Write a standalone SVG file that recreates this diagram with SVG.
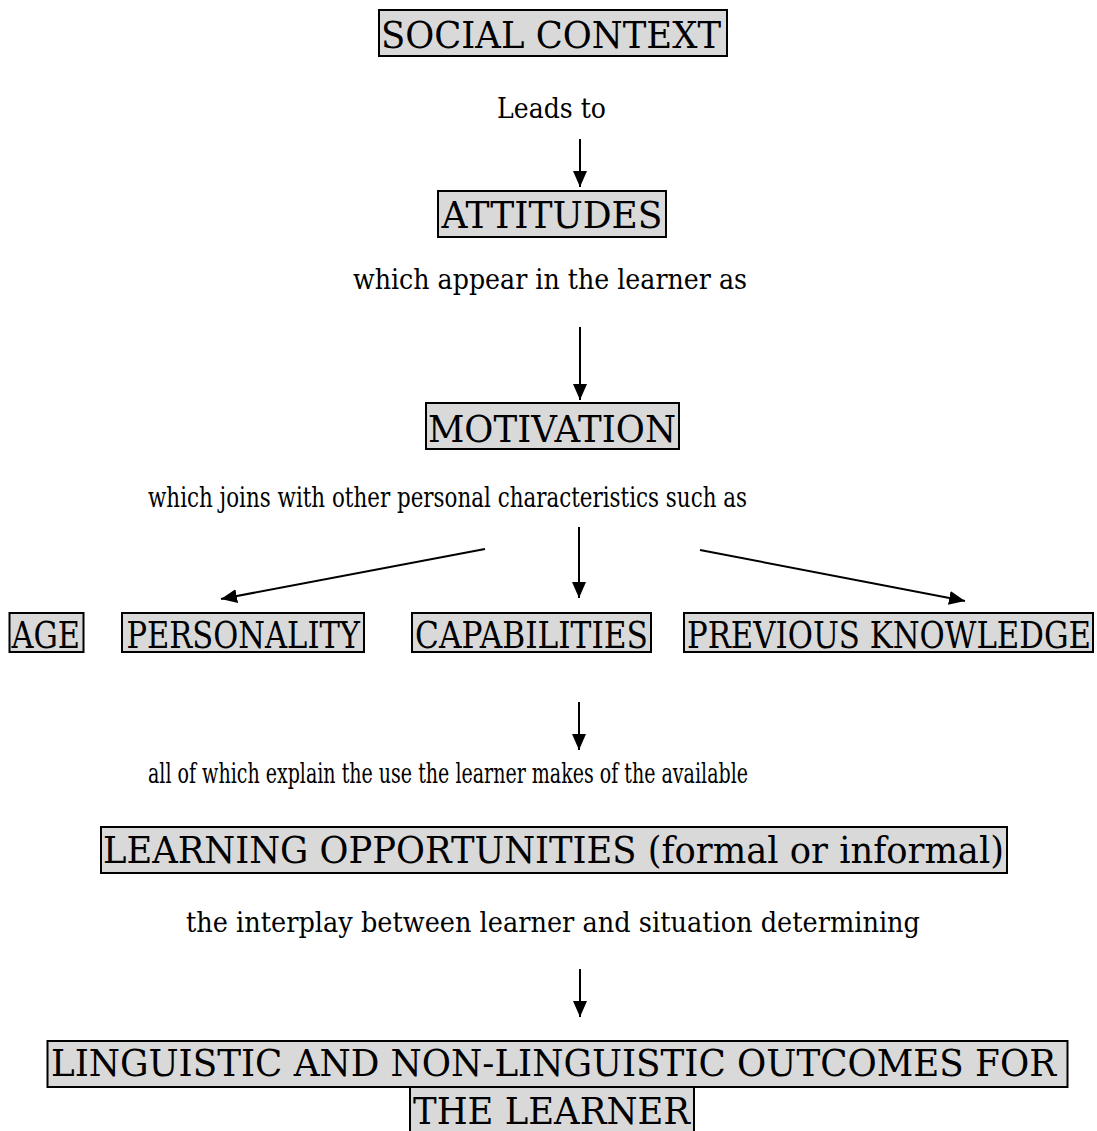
<svg xmlns="http://www.w3.org/2000/svg" width="1097" height="1131" viewBox="0 0 1097 1131">
  <style>
    .box { fill: #d9d9d9; stroke: #000; stroke-width: 2; }
    .bt { font-family: "DejaVu Serif", "Liberation Serif", serif; font-size: 38px; fill: #000; }
    .lt { font-family: "DejaVu Serif", "Liberation Serif", serif; font-size: 27px; fill: #000; }
    .conn { stroke: #000; stroke-width: 2; fill: none; marker-end: url(#ah); }
  </style>
  <defs>
    <marker id="ah" markerUnits="userSpaceOnUse" markerWidth="16" markerHeight="14" refX="16" refY="7" orient="auto">
      <path d="M0,0 L16,7 L0,14 z" fill="#000"/>
    </marker>
  </defs>
  <rect width="1097" height="1131" fill="#fff"/>

  <g id="social-context">
    <rect class="box" x="379" y="10" width="348" height="46"/>
    <text class="bt" x="381" y="47.5" textLength="340" lengthAdjust="spacingAndGlyphs">SOCIAL CONTEXT</text>
  </g>
  <g id="label-leads-to">
    <text class="lt" x="497" y="118" textLength="109" lengthAdjust="spacingAndGlyphs">Leads to</text>
  </g>
  <g id="attitudes">
    <rect class="box" x="438" y="191" width="228" height="46"/>
    <text class="bt" x="441.5" y="228" textLength="221" lengthAdjust="spacingAndGlyphs">ATTITUDES</text>
  </g>
  <g id="label-appear">
    <text class="lt" x="353" y="289" textLength="394" lengthAdjust="spacingAndGlyphs">which appear in the learner as</text>
  </g>
  <g id="motivation">
    <rect class="box" x="426" y="403" width="253" height="46"/>
    <text class="bt" x="428" y="441.5" textLength="248" lengthAdjust="spacingAndGlyphs">MOTIVATION</text>
  </g>
  <g id="label-joins">
    <text class="lt" x="148" y="507" textLength="599" lengthAdjust="spacingAndGlyphs">which joins with other personal characteristics such as</text>
  </g>
  <g id="age">
    <rect class="box" x="9.5" y="613" width="74" height="39"/>
    <text class="bt" x="11.5" y="648" textLength="68.5" lengthAdjust="spacingAndGlyphs">AGE</text>
  </g>
  <g id="personality">
    <rect class="box" x="122" y="613" width="242" height="39"/>
    <text class="bt" x="126.5" y="648" textLength="233.5" lengthAdjust="spacingAndGlyphs">PERSONALITY</text>
  </g>
  <g id="capabilities">
    <rect class="box" x="412" y="613" width="239" height="39"/>
    <text class="bt" x="415" y="648" textLength="233" lengthAdjust="spacingAndGlyphs">CAPABILITIES</text>
  </g>
  <g id="previous-knowledge">
    <rect class="box" x="684" y="613" width="409" height="39"/>
    <text class="bt" x="687" y="648" textLength="404" lengthAdjust="spacingAndGlyphs">PREVIOUS KNOWLEDGE</text>
  </g>
  <g id="label-explain">
    <text class="lt" x="148" y="783" textLength="600" lengthAdjust="spacingAndGlyphs">all of which explain the use the learner makes of the available</text>
  </g>
  <g id="learning-opportunities">
    <rect class="box" x="101" y="827" width="906" height="46"/>
    <text class="bt" x="103" y="863" textLength="901" lengthAdjust="spacingAndGlyphs">LEARNING OPPORTUNITIES (formal or informal)</text>
  </g>
  <g id="label-interplay">
    <text class="lt" x="186" y="932" textLength="734" lengthAdjust="spacingAndGlyphs">the interplay between learner and situation determining</text>
  </g>
  <g id="outcomes">
    <rect class="box" x="47.5" y="1041" width="1020" height="46"/>
    <rect class="box" x="410" y="1087" width="284" height="50"/>
    <text class="bt" x="51" y="1075.5" textLength="1005" lengthAdjust="spacingAndGlyphs">LINGUISTIC AND NON-LINGUISTIC OUTCOMES FOR</text>
    <text class="bt" x="413" y="1123.5" textLength="277" lengthAdjust="spacingAndGlyphs">THE LEARNER</text>
  </g>

  <g id="connectors">
    <line class="conn" x1="580" y1="139" x2="580" y2="187"/>
    <line class="conn" x1="580" y1="327" x2="580" y2="400"/>
    <line class="conn" x1="485" y1="549" x2="221" y2="599"/>
    <line class="conn" x1="579" y1="527" x2="579" y2="598"/>
    <line class="conn" x1="700" y1="550" x2="965" y2="601"/>
    <line class="conn" x1="579" y1="702" x2="579" y2="750"/>
    <line class="conn" x1="580" y1="969" x2="580" y2="1017"/>
  </g>
</svg>
